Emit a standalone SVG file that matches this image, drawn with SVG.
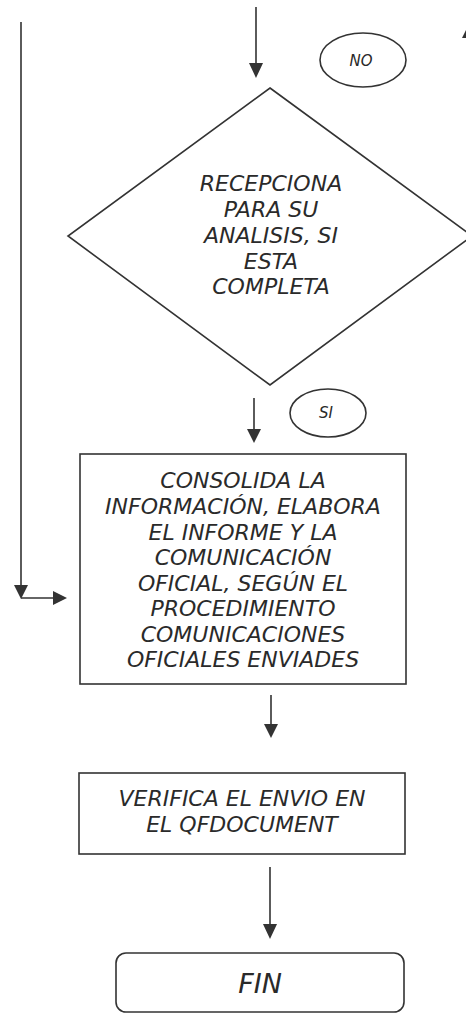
<svg xmlns="http://www.w3.org/2000/svg" width="466" height="1013" viewBox="0 0 466 1013">
<style>
.s{fill:none;stroke:#333;stroke-width:1.6}
.b{fill:#fff;stroke:#333;stroke-width:1.6}
.t{font-family:"DejaVu Sans",Verdana,sans-serif;font-style:italic;fill:#2a2a2a;text-anchor:middle}
.big{font-size:22px}
.sm{font-size:15px}
.ah{fill:#333}
</style>
<g id="connectors">
<line class="s" x1="256" y1="7" x2="256" y2="66"/>
<polygon class="ah" points="249,63 263,63 256,78"/>
<line class="s" x1="21" y1="22" x2="21" y2="590"/>
<polygon class="ah" points="14,585 28,585 21,599"/>
<line class="s" x1="21" y1="598" x2="56" y2="598"/>
<polygon class="ah" points="53,591 53,605 67,598"/>
<line class="s" x1="254" y1="398" x2="254" y2="432"/>
<polygon class="ah" points="247,429 261,429 254,443"/>
<line class="s" x1="271" y1="695" x2="271" y2="727"/>
<polygon class="ah" points="264,724 278,724 271,738"/>
<line class="s" x1="270" y1="867" x2="270" y2="928"/>
<polygon class="ah" points="263,924 277,924 270,939"/>
<polygon class="ah" points="462,38 468,26 474,38"/>
</g>
<g id="no">
<ellipse class="b" cx="363" cy="60" rx="43" ry="27"/>
<text class="t sm" x="361" y="66">NO</text>
</g>
<g id="decision">
<polygon class="b" points="270,88 472,236 270,385 68,236"/>
<text class="t big" x="271" y="191">RECEPCIONA</text>
<text class="t big" x="271" y="217">PARA SU</text>
<text class="t big" x="271" y="243">ANALISIS, SI</text>
<text class="t big" x="271" y="269">ESTA</text>
<text class="t big" x="271" y="294">COMPLETA</text>
</g>
<g id="si">
<ellipse class="b" cx="328" cy="413" rx="38" ry="24"/>
<text class="t sm" x="326" y="418">SI</text>
</g>
<g id="consolida">
<rect class="b" x="80" y="454" width="326" height="230"/>
<text class="t big" x="243" y="488">CONSOLIDA LA</text>
<text class="t big" x="243" y="514">INFORMACIÓN, ELABORA</text>
<text class="t big" x="243" y="540">EL INFORME Y LA</text>
<text class="t big" x="243" y="565">COMUNICACIÓN</text>
<text class="t big" x="243" y="591">OFICIAL, SEGÚN EL</text>
<text class="t big" x="243" y="616">PROCEDIMIENTO</text>
<text class="t big" x="243" y="642">COMUNICACIONES</text>
<text class="t big" x="243" y="667">OFICIALES ENVIADES</text>
</g>
<g id="verifica">
<rect class="b" x="79" y="773" width="326" height="81"/>
<text class="t big" x="242" y="806">VERIFICA EL ENVIO EN</text>
<text class="t big" x="242" y="832">EL QFDOCUMENT</text>
</g>
<g id="fin">
<rect class="b" x="116" y="953" width="288" height="59" rx="10"/>
<text class="t" style="font-size:27px" x="260" y="993">FIN</text>
</g>
</svg>
